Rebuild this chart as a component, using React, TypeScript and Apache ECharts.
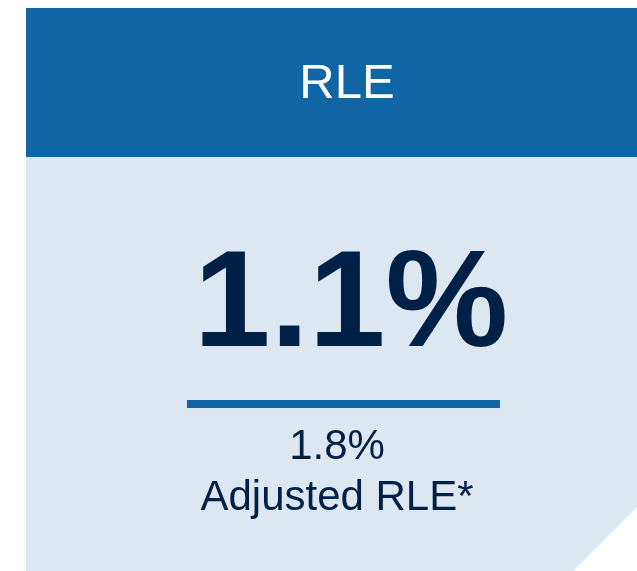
import React, { useEffect, useRef } from "react";
import * as echarts from "echarts";

const title = "RLE";
const mainValue = "1.1%";
const subValue = "1.8%";
const subLabel = "Adjusted RLE*";

const HEADER = "#1066a5";
const BG = "#dce7f1";
const DARK = "#002145";
const FONT = "'Liberation Sans', Arial, sans-serif";

export default function App() {
  const ref = useRef<HTMLDivElement>(null);
  useEffect(() => {
    if (!ref.current) return;
    const chart = echarts.init(ref.current, null, { renderer: "svg" });
    chart.setOption({
      animation: false,
      graphic: [
        {
          type: "polygon",
          shape: { points: [[26, 8], [637, 8], [637, 507], [573, 571], [26, 571]] },
          style: { fill: BG },
        },
        { type: "rect", shape: { x: 26, y: 8, width: 611, height: 149 }, style: { fill: HEADER } },
        {
          type: "text",
          x: 347,
          y: 81,
          style: { text: title, fill: "#ffffff", font: `49px ${FONT}`, align: "center", verticalAlign: "middle" },
        },
        {
          type: "text",
          x: 351,
          y: 298,
          style: { text: mainValue, fill: DARK, font: `bold 138px ${FONT}`, align: "center", verticalAlign: "middle" },
        },
        { type: "rect", shape: { x: 187, y: 400, width: 313, height: 8 }, style: { fill: HEADER } },
        {
          type: "text",
          x: 337,
          y: 444,
          style: { text: subValue, fill: DARK, font: `42px ${FONT}`, align: "center", verticalAlign: "middle" },
        },
        {
          type: "text",
          x: 337,
          y: 495,
          style: { text: subLabel, fill: DARK, font: `42px ${FONT}`, align: "center", verticalAlign: "middle" },
        },
      ],
    });
    return () => chart.dispose();
  }, []);
  return <div ref={ref} style={{ position: "fixed", left: 0, top: 0, width: 637, height: 571 }} />;
}
